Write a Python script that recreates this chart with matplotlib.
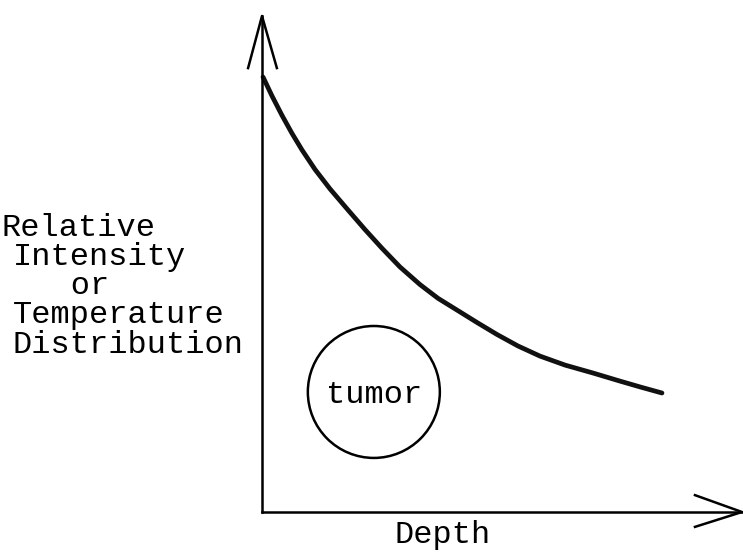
import matplotlib
matplotlib.use("Agg")
import matplotlib.pyplot as plt
from matplotlib.patches import Ellipse

# Data (hand-sketched decay curve, arbitrary units)
depth = [0.021, 0.208, 0.417, 0.625, 0.833, 1.104, 1.417, 1.792, 2.146, 2.500,
         2.875, 3.292, 3.667, 4.063, 4.479, 4.896, 5.333, 5.792, 6.313, 6.896,
         7.458, 7.875, 8.333]
intensity = [8.770, 8.389, 7.996, 7.633, 7.300, 6.907, 6.514, 6.089, 5.694, 5.317,
             4.940, 4.585, 4.308, 4.071, 3.821, 3.579, 3.347, 3.143, 2.962, 2.802,
             2.639, 2.522, 2.399]
tumor_center = (2.33, 2.42)
tumor_size = (2.75, 2.66)
ylabel_lines = ["Relative", "Intensity", "   or", "Temperature", "Distribution"]
xlabel = "Depth"
tumor_label = "tumor"

W, H = 743, 552
fig = plt.figure(figsize=(W / 100, H / 100), dpi=100)
ax = fig.add_axes([262 / W, 40 / H, 480 / W, 496 / H])
ax.set_xlim(0, 10)
ax.set_ylim(0, 10)
for s in ["top", "right"]:
    ax.spines[s].set_visible(False)
for s in ["left", "bottom"]:
    ax.spines[s].set_linewidth(1.8)
    ax.spines[s].set_color("black")
ax.set_xticks([])
ax.set_yticks([])
ax.patch.set_alpha(0)

# arrowheads
ax.plot([-0.29, 0, 0.31], [8.95, 10, 8.95], color="black", lw=1.8, clip_on=False)
ax.plot([9.02, 10, 9.02], [0.34, 0, -0.3], color="black", lw=1.8, clip_on=False)

# curve
ax.plot(depth, intensity, color="#111111", lw=3.4, solid_capstyle="round",
        solid_joinstyle="round", clip_on=False)

# tumor
ax.add_patch(Ellipse(tumor_center, tumor_size[0], tumor_size[1], fill=False,
                     edgecolor="black", lw=1.8))
font = dict(family="Liberation Mono", fontsize=23, color="black")
ax.text(tumor_center[0], tumor_center[1] - 0.22, tumor_label, ha="center",
        va="baseline", **font)

# labels
baselines = [236, 265, 294, 323, 353]
for line, b in zip(ylabel_lines, baselines):
    fig.text(2 / W if line == "Relative" else 13 / W, 1 - b / H, line, ha="left",
             va="baseline", **font)
fig.text(443 / W, 1 - 543 / H, xlabel, ha="center", va="baseline", **font)

fig.savefig("out.png", dpi=100, facecolor="white")
